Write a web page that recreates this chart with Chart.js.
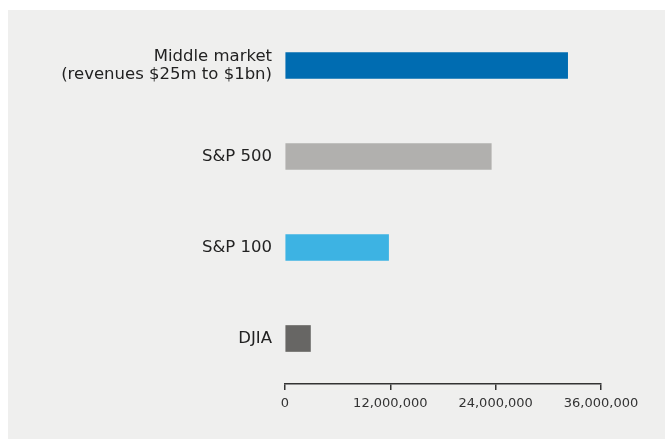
<!DOCTYPE html>
<html lang="en">
<head>
    <meta charset="UTF-8">
    <title>Employment by company group</title>
    <script src="https://cdn.jsdelivr.net/npm/chart.js"></script>
    <style>
        * { margin: 0; padding: 0; box-sizing: border-box; }
        body { background: #fff; width: 665px; height: 439px; overflow: hidden; }
        .panel {
            position: absolute;
            left: 8px; top: 10px;
            width: 657px; height: 429px;
            background: #efefee;
        }
    </style>
</head>
<body>
    <div class="panel">
        <canvas id="chart" width="657" height="429"></canvas>
    </div>

    <script>
        // data
        const categories = [
            ['Middle market', '(revenues $25m to $1bn)'],
            'S&P 500',
            'S&P 100',
            'DJIA'
        ];
        const values = [32200000, 23500000, 11800000, 2900000];
        const barColors = ['#006cb1', '#b1b0ae', '#3db3e3', '#676664'];
        const axisMax = 36000000;
        const tickStep = 12000000;

        new Chart(document.getElementById('chart'), {
            type: 'bar',
            data: {
                labels: categories,
                datasets: [{
                    data: values,
                    backgroundColor: barColors,
                    barThickness: 26
                }]
            },
            options: {
                indexAxis: 'y',
                responsive: false,
                animation: false,
                layout: { padding: { top: 10, right: 64, bottom: 0, left: 0 } },
                plugins: {
                    legend: { display: false },
                    tooltip: { enabled: false }
                },
                scales: {
                    x: {
                        min: 0,
                        max: axisMax,
                        afterFit: (scale) => { scale.height = 55; },
                        border: { display: true, color: '#333', width: 1.5 },
                        grid: {
                            drawOnChartArea: false,
                            drawTicks: true,
                            tickLength: 6,
                            color: '#333',
                            lineWidth: 1.5
                        },
                        ticks: {
                            stepSize: tickStep,
                            padding: 6,
                            maxRotation: 0,
                            color: '#333',
                            font: { family: 'DejaVu Sans', size: 13 },
                            callback: (v) => v.toLocaleString('en-US')
                        }
                    },
                    y: {
                        afterFit: (scale) => {
                            scale.width = 277;
                            scale.paddingTop = 0;
                            scale.paddingBottom = 0;
                        },
                        border: { display: false },
                        grid: { display: false, drawTicks: false },
                        ticks: {
                            padding: 13,
                            color: '#222',
                            font: { family: 'DejaVu Sans', size: 16.5, lineHeight: 1.1 }
                        }
                    }
                }
            }
        });
    </script>
</body>
</html>
